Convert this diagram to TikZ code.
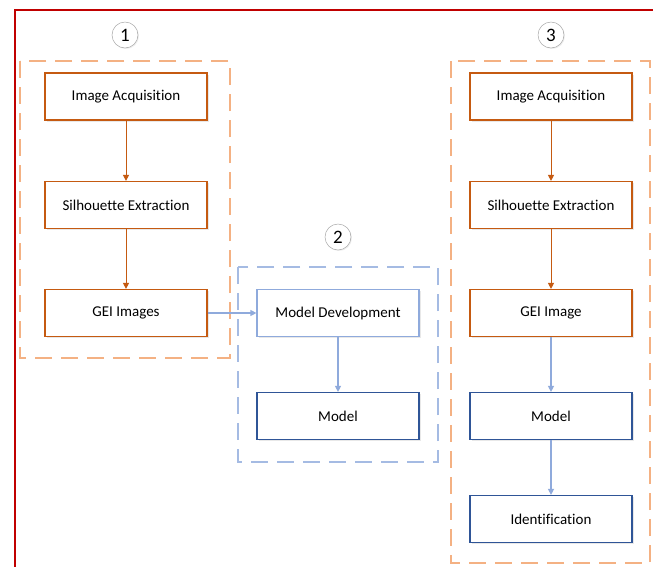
\documentclass[tikz,border=0pt]{standalone}
\usepackage{fontspec}
\setmainfont[Ligatures={NoCommon,NoRare,NoContextual},RawFeature={-liga;-dlig;-clig}]{Carlito}
\usetikzlibrary{arrows.meta,shadows}
\definecolor{orgdark}{HTML}{C55A11}
\definecolor{orglight}{HTML}{F4B183}
\definecolor{bluelight}{HTML}{8FAADC}
\definecolor{bluedark}{HTML}{2F5597}
\definecolor{redframe}{HTML}{C00000}
\tikzset{
  box/.style={draw, line width=1.2pt, fill=white, minimum width=162pt, minimum height=47pt,
    font=\fontsize{15}{17}\selectfont, inner sep=0pt,
    drop shadow={opacity=0.18, shadow xshift=1.5pt, shadow yshift=-1.5pt}},
  obox/.style={box, draw=orgdark},
  lbbox/.style={box, draw=bluelight},
  dbbox/.style={box, draw=bluedark},
  frameo/.style={draw=orglight, line width=2pt, dash pattern=on 17pt off 9pt},
  frameb/.style={draw=bluelight!80, line width=2pt, dash pattern=on 17pt off 9pt},
  oarrow/.style={draw=orgdark, line width=1pt, -{Triangle[length=6pt,width=6pt]}},
  barrow/.style={draw=bluelight, line width=1.2pt, -{Triangle[length=6pt,width=6pt]}},
  numc/.style={draw=black!35, line width=0.5pt, fill=white, circle, minimum size=26pt, inner sep=0pt,
    font=\fontsize{19}{20}\selectfont, drop shadow={opacity=0.12, shadow xshift=1pt, shadow yshift=-1pt}}
}
\begin{document}
\begin{tikzpicture}[x=1pt,y=-1pt]
\useasboundingbox (0,0) rectangle (653,566);
\fill[white] (0,0) rectangle (653,566);
% red frame
\draw[redframe, line width=1.5pt] (15,570) -- (15,10) -- (660,10);
% dashed frames
\draw[frameo] (20,61) rectangle (230,358);
\draw[frameb] (238,267) rectangle (438,462);
\draw[frameo] (451,61) rectangle (650,563);
% numbers
\node[numc] (n1) at (125,35) {1};
\node[numc] (n2) at (338,237) {2};
\node[numc] (n3) at (551,35) {3};
% column 1
\node[obox] (a1) at (126,96.5) {Image Acquisition};
\node[obox] (a2) at (126,205) {Silhouette Extraction};
\node[obox] (a3) at (126,313) {GEI Images};
% column 2
\node[lbbox] (b1) at (338,313) {Model Development};
\node[dbbox] (b2) at (338,416) {Model};
% column 3
\node[obox] (c1) at (551,96.5) {Image Acquisition};
\node[obox] (c2) at (551,205) {Silhouette Extraction};
\node[obox] (c3) at (551,313) {GEI Image};
\node[dbbox] (c4) at (551,416) {Model};
\node[dbbox] (c5) at (551,519) {Identification};
% arrows
\draw[oarrow] (a1) -- (a2);
\draw[oarrow] (a2) -- (a3);
\draw[barrow] (a3) -- (b1);
\draw[barrow] (b1) -- (b2);
\draw[oarrow] (c1) -- (c2);
\draw[oarrow] (c2) -- (c3);
\draw[barrow] (c3) -- (c4);
\draw[barrow] (c4) -- (c5);
\end{tikzpicture}
\end{document}
